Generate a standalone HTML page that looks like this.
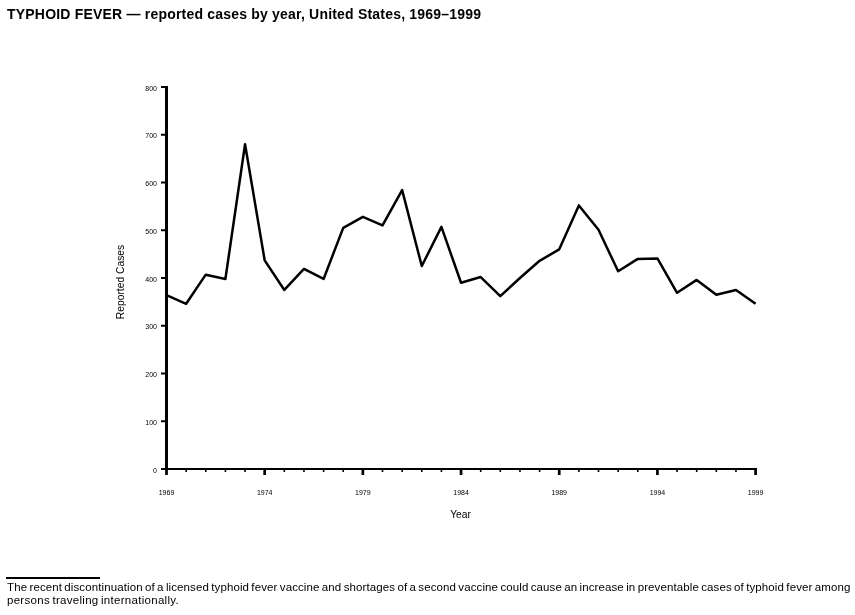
<!DOCTYPE html>
<html><head><meta charset="utf-8"><title>Typhoid Fever</title>
<style>
html,body{margin:0;padding:0;background:#fff;}
body{width:855px;height:615px;position:relative;overflow:hidden;font-family:"Liberation Sans",Arial,Helvetica,sans-serif;color:#000;}
h1{position:absolute;left:7px;top:6px;margin:0;font-size:14px;line-height:16px;font-weight:bold;white-space:nowrap;letter-spacing:0.2px;}
svg{position:absolute;left:0;top:0;}
svg text{font-family:"Liberation Sans",Arial,Helvetica,sans-serif;font-size:7px;fill:#000;}
svg text.ax{font-size:10.3px;}
.rule{position:absolute;left:6px;top:577px;width:94px;height:2px;background:#000;}
p{position:absolute;left:7px;margin:0;font-size:11.5px;line-height:13px;white-space:nowrap;word-spacing:-1px;}
p.l1{top:581px;letter-spacing:0.107px;}
p.l2{top:594px;letter-spacing:0.29px;}
</style></head><body>
<h1>TYPHOID FEVER — reported cases by year, United States, 1969–1999</h1>
<svg width="855" height="615" viewBox="0 0 855 615">
<rect x="165" y="86" width="3" height="384" fill="#000"/>
<rect x="165" y="468" width="592" height="2" fill="#000"/>
<rect x="161" y="468.00" width="5" height="2" fill="#000"/><rect x="161" y="420.25" width="5" height="2" fill="#000"/><rect x="161" y="372.50" width="5" height="2" fill="#000"/><rect x="161" y="324.75" width="5" height="2" fill="#000"/><rect x="161" y="277.00" width="5" height="2" fill="#000"/><rect x="161" y="229.25" width="5" height="2" fill="#000"/><rect x="161" y="181.50" width="5" height="2" fill="#000"/><rect x="161" y="133.75" width="5" height="2" fill="#000"/><rect x="161" y="86.00" width="5" height="2" fill="#000"/><rect x="165.15" y="469" width="2.7" height="6" fill="#000"/><rect x="185.34" y="469" width="1.6" height="3" fill="#000"/><rect x="204.97" y="469" width="1.6" height="3" fill="#000"/><rect x="224.61" y="469" width="1.6" height="3" fill="#000"/><rect x="244.25" y="469" width="1.6" height="3" fill="#000"/><rect x="263.33" y="469" width="2.7" height="6" fill="#000"/><rect x="283.52" y="469" width="1.6" height="3" fill="#000"/><rect x="303.16" y="469" width="1.6" height="3" fill="#000"/><rect x="322.79" y="469" width="1.6" height="3" fill="#000"/><rect x="342.43" y="469" width="1.6" height="3" fill="#000"/><rect x="361.52" y="469" width="2.7" height="6" fill="#000"/><rect x="381.70" y="469" width="1.6" height="3" fill="#000"/><rect x="401.34" y="469" width="1.6" height="3" fill="#000"/><rect x="420.98" y="469" width="1.6" height="3" fill="#000"/><rect x="440.61" y="469" width="1.6" height="3" fill="#000"/><rect x="459.70" y="469" width="2.7" height="6" fill="#000"/><rect x="479.89" y="469" width="1.6" height="3" fill="#000"/><rect x="499.52" y="469" width="1.6" height="3" fill="#000"/><rect x="519.16" y="469" width="1.6" height="3" fill="#000"/><rect x="538.80" y="469" width="1.6" height="3" fill="#000"/><rect x="557.88" y="469" width="2.7" height="6" fill="#000"/><rect x="578.07" y="469" width="1.6" height="3" fill="#000"/><rect x="597.71" y="469" width="1.6" height="3" fill="#000"/><rect x="617.34" y="469" width="1.6" height="3" fill="#000"/><rect x="636.98" y="469" width="1.6" height="3" fill="#000"/><rect x="656.07" y="469" width="2.7" height="6" fill="#000"/><rect x="676.25" y="469" width="1.6" height="3" fill="#000"/><rect x="695.89" y="469" width="1.6" height="3" fill="#000"/><rect x="715.53" y="469" width="1.6" height="3" fill="#000"/><rect x="735.16" y="469" width="1.6" height="3" fill="#000"/><rect x="754.25" y="469" width="2.7" height="6" fill="#000"/>
<g><text x="157" y="472.60" text-anchor="end">0</text><text x="157" y="424.85" text-anchor="end">100</text><text x="157" y="377.10" text-anchor="end">200</text><text x="157" y="329.35" text-anchor="end">300</text><text x="157" y="281.60" text-anchor="end">400</text><text x="157" y="233.85" text-anchor="end">500</text><text x="157" y="186.10" text-anchor="end">600</text><text x="157" y="138.35" text-anchor="end">700</text><text x="157" y="90.60" text-anchor="end">800</text></g><g><text x="166.50" y="495.3" text-anchor="middle">1969</text><text x="264.68" y="495.3" text-anchor="middle">1974</text><text x="362.87" y="495.3" text-anchor="middle">1979</text><text x="461.05" y="495.3" text-anchor="middle">1984</text><text x="559.23" y="495.3" text-anchor="middle">1989</text><text x="657.42" y="495.3" text-anchor="middle">1994</text><text x="755.60" y="495.3" text-anchor="middle">1999</text></g>
<text class="ax" x="460.6" y="518" text-anchor="middle">Year</text>
<text class="ax" transform="translate(124,282) rotate(-90)" text-anchor="middle">Reported Cases</text>
<polyline points="166.50,295.19 186.14,303.78 205.77,274.66 225.41,278.96 245.05,144.30 264.68,260.33 284.32,289.94 303.96,268.93 323.59,278.96 343.23,227.86 362.87,216.88 382.50,225.48 402.14,190.14 421.78,266.06 441.41,226.91 461.05,282.77 480.69,277.05 500.32,296.14 519.96,278.00 539.60,260.81 559.23,249.35 578.87,205.42 598.51,229.77 618.14,271.31 637.78,258.90 657.42,258.42 677.05,292.80 696.69,279.91 716.33,294.71 735.96,289.94 755.60,303.78" fill="none" stroke="#000" stroke-width="2.5" stroke-linejoin="round" stroke-linecap="butt"/>
</svg>
<div class="rule"></div>
<p class="l1">The recent discontinuation of a licensed typhoid fever vaccine and shortages of a second vaccine could cause an increase in preventable cases of typhoid fever among</p>
<p class="l2">persons traveling internationally.</p>
</body></html>
